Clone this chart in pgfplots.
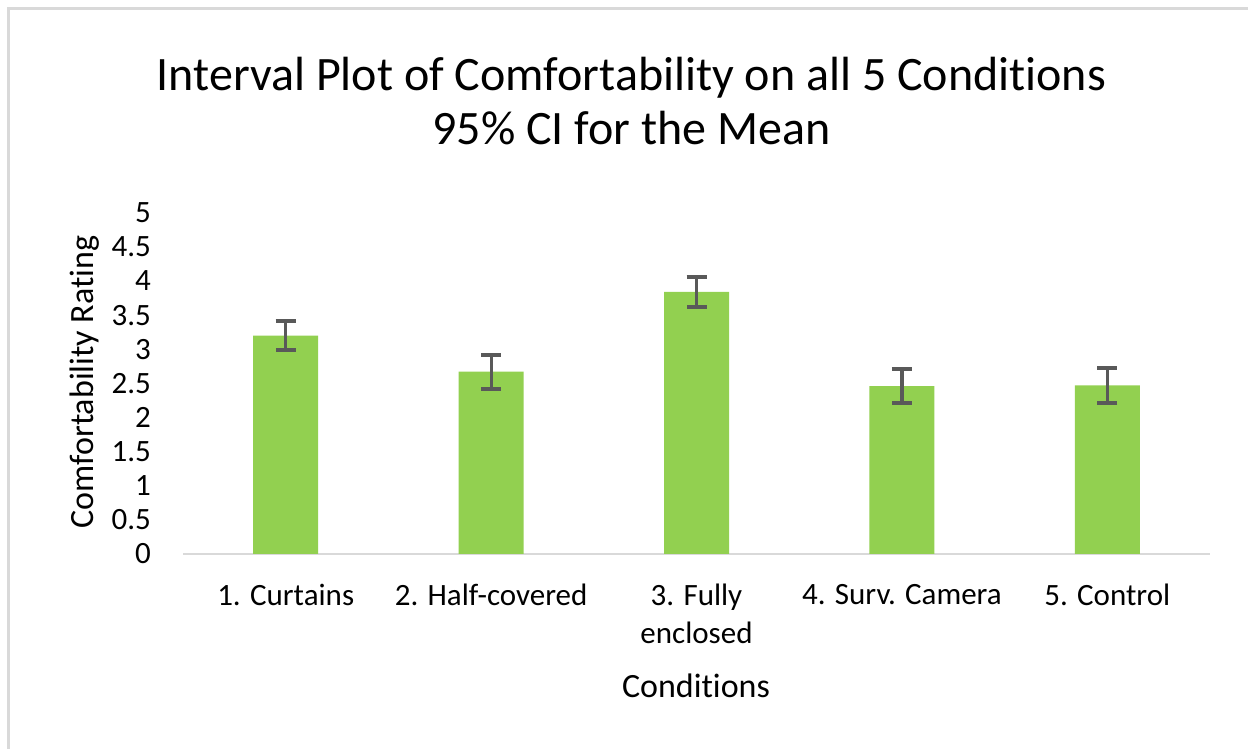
\documentclass[border=0pt]{standalone}
\usepackage{pgfplots}
\pgfplotsset{compat=1.18}
\usepackage{fontspec}
\setmainfont{Carlito}[Ligatures={NoCommon}]
\definecolor{bargreen}{HTML}{92D050}
\definecolor{errgray}{HTML}{595959}
\definecolor{lightline}{HTML}{D9D9D9}
\begin{document}
\begin{tikzpicture}
% page area 1248 x 749 px at 0.5pt per px
\path[use as bounding box] (0,0) rectangle (624pt,374.5pt);
\fill[white] (0,0) rectangle (624pt,374.5pt);
\draw[lightline, line width=1.5pt] (4.3pt,0) -- (4.3pt,370.2pt) -- (624pt,370.2pt);
\begin{axis}[
  at={(91.5pt,97.5pt)}, anchor=south west,
  scale only axis, width=513.5pt, height=170.65pt,
  xmin=-0.5, xmax=4.5, ymin=0, ymax=5,
  axis lines*=left,
  y axis line style={draw=none},
  x axis line style={draw=lightline, line width=1.2pt},
  major tick length=0pt,
  xtick={0,1,2,3,4},
  xticklabels={1. Curtains, 2. Half-covered, {3. Fully\\enclosed}, 4. Surv. Camera, 5. Control},
  xticklabel style={font=\fontsize{15.5}{19}\selectfont, align=center, yshift=-11.5pt, text=black},
  ytick={0,0.5,1,1.5,2,2.5,3,3.5,4,4.5,5},
  yticklabels={0,0.5,1,1.5,2,2.5,3,3.5,4,4.5,5},
  yticklabel style={font=\fontsize{15.5}{19}\selectfont, anchor=east, xshift=-12.5pt, text=black},
  clip=false,
]
\addplot[ybar, bar width=32.5pt, fill=bargreen, draw=none,
  error bars/.cd, y dir=both, y explicit,
  error bar style={line width=1.6pt, errgray},
  error mark options={rotate=90, mark size=5pt, line width=2pt, errgray}]
  coordinates {
  (0,3.20) +- (0,0.21)
  (1,2.67) +- (0,0.25)
  (2,3.84) +- (0,0.22)
  (3,2.46) +- (0,0.245)
  (4,2.47) +- (0,0.26)
  };
\end{axis}
% titles and axis labels (pixel y converted: Y = (749 - py)/2)
\node[anchor=base, font=\fontsize{24}{29}\selectfont] at (315.75pt,329pt) {Interval Plot of Comfortability on all 5 Conditions};
\node[anchor=base, font=\fontsize{24}{29}\selectfont] at (315.75pt,302pt) {95\% CI for the Mean};
\node[anchor=base, font=\fontsize{17}{20}\selectfont] at (348pt,25.5pt) {Conditions};
\node[rotate=90, anchor=center, font=\fontsize{17}{20}\selectfont] at (42.5pt,183.5pt) {Comfortability Rating};
\end{tikzpicture}
\end{document}
